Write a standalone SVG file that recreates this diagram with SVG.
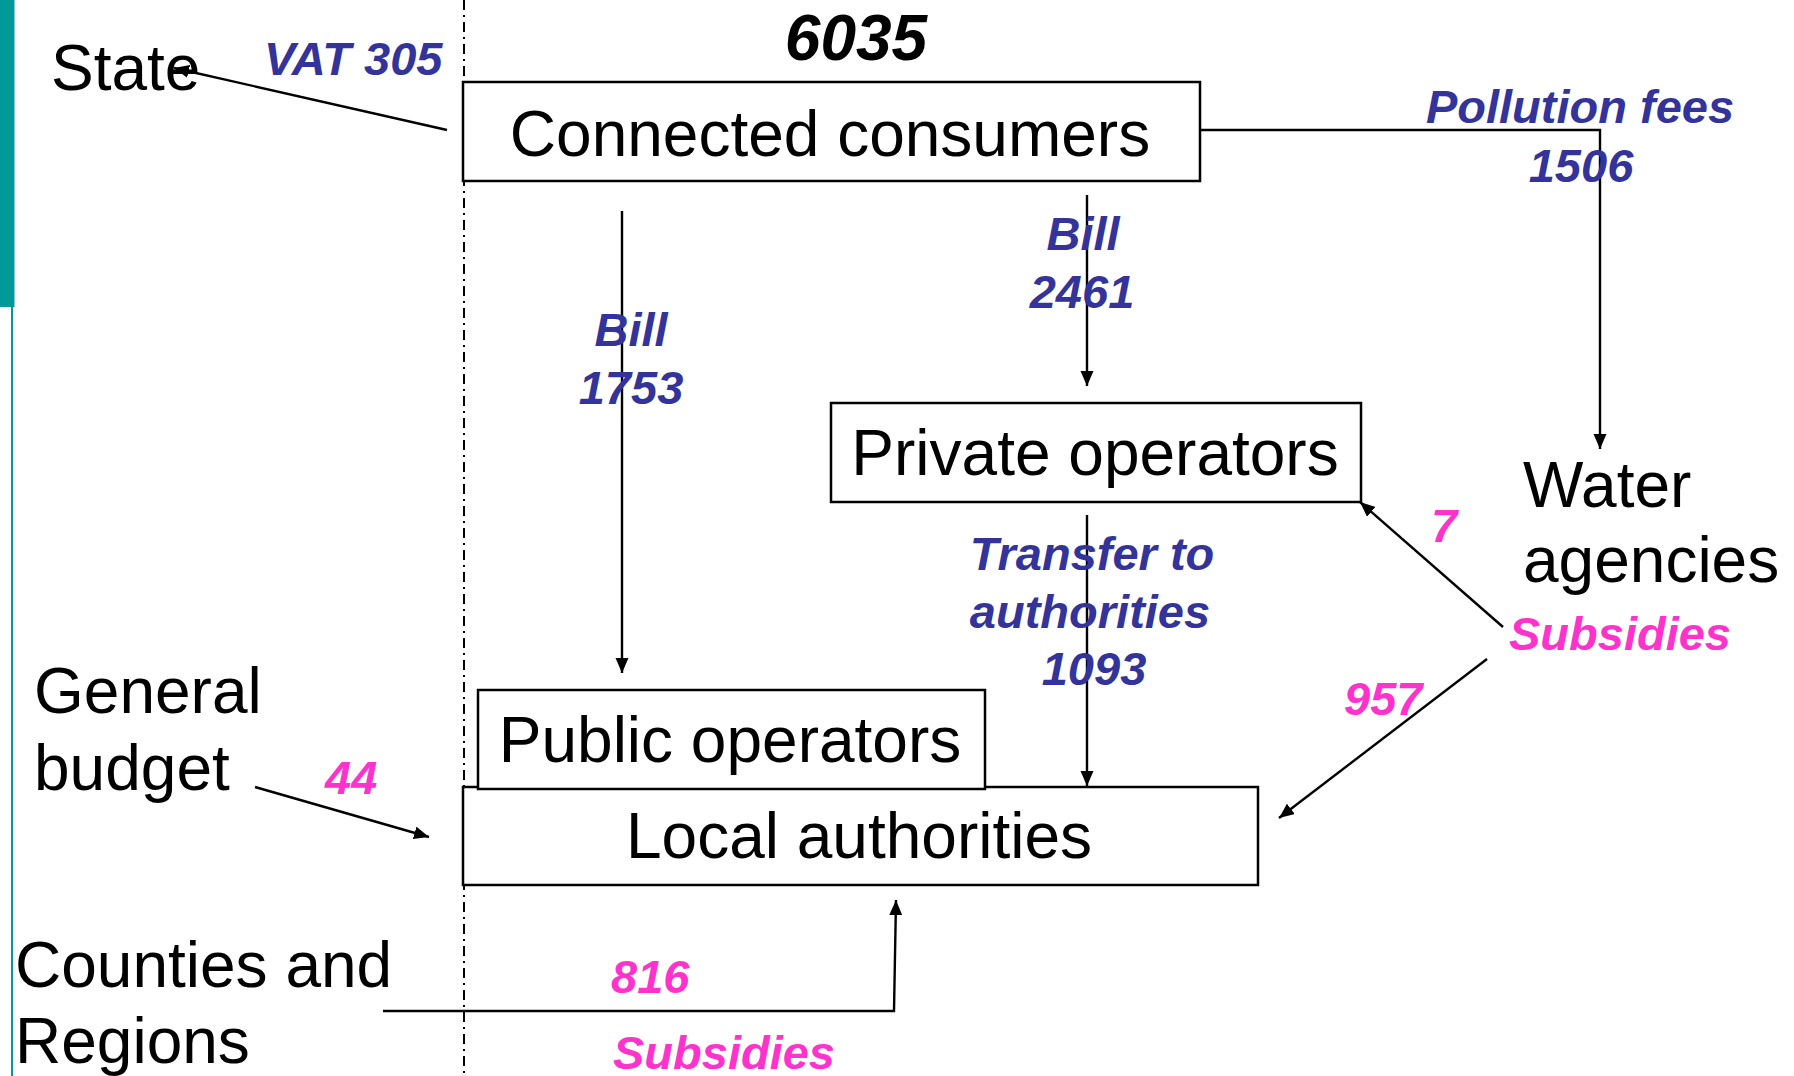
<svg xmlns="http://www.w3.org/2000/svg" width="1794" height="1076" viewBox="0 0 1794 1076">
<style>
.box{fill:#fff;stroke:#000;stroke-width:2.5}
.node{font-family:"Liberation Sans",Arial,sans-serif;font-size:64px;fill:#000}
.lbl{font-family:"Liberation Sans",Arial,sans-serif;font-size:47px;font-weight:bold;font-style:italic}
.blue{fill:#333399}
.pink{fill:#FF33CC}
.con{fill:none;stroke:#000;stroke-width:2.4}
</style>
<defs>
<marker id="ah" markerUnits="userSpaceOnUse" markerWidth="17" markerHeight="14" refX="15" refY="6.5" orient="auto">
<path d="M0,0 L15,6.5 L0,13 z" fill="#000"/>
</marker>
</defs>
<rect width="1794" height="1076" fill="#fff"/>
<g id="decor">
<rect x="0" y="0" width="14.5" height="307" fill="#009999"/>
<line x1="12" y1="307" x2="12" y2="1076" stroke="#009999" stroke-width="2"/>
<line x1="464" y1="0" x2="464" y2="1076" stroke="#000" stroke-width="2" stroke-dasharray="10,5,2,5"/>
</g>
<g id="connectors">
<line class="con" x1="447" y1="130" x2="174" y2="68" marker-end="url(#ah)"/>
<line class="con" x1="622" y1="211" x2="622" y2="673" marker-end="url(#ah)"/>
<line class="con" x1="1087" y1="195" x2="1087" y2="386" marker-end="url(#ah)"/>
<polyline class="con" points="1200,130 1600,130 1600,449" marker-end="url(#ah)"/>
<line class="con" x1="1087" y1="515" x2="1087" y2="786" marker-end="url(#ah)"/>
<line class="con" x1="1503" y1="627" x2="1360" y2="502" marker-end="url(#ah)"/>
<line class="con" x1="1487" y1="659" x2="1279" y2="818" marker-end="url(#ah)"/>
<line class="con" x1="255" y1="787" x2="429" y2="837" marker-end="url(#ah)"/>
<polyline class="con" points="383,1011 894,1011 896,900" marker-end="url(#ah)"/>
</g>
<g id="state"><text class="node" x="51" y="90">State</text></g>
<g id="connected-consumers">
<rect class="box" x="463" y="82" width="737" height="99"/>
<text class="node" x="830" y="156" text-anchor="middle">Connected consumers</text>
</g>
<g id="private-operators">
<rect class="box" x="831" y="403" width="530" height="99"/>
<text class="node" x="1095" y="475" text-anchor="middle">Private operators</text>
</g>
<g id="local-authorities">
<rect class="box" x="463" y="787" width="795" height="98"/>
<text class="node" x="859" y="858" text-anchor="middle">Local authorities</text>
</g>
<g id="public-operators">
<rect class="box" x="478" y="690" width="507" height="99"/>
<text class="node" x="730" y="762" text-anchor="middle">Public operators</text>
</g>
<g id="water-agencies">
<text class="node" x="1523" y="507">Water</text>
<text class="node" x="1523" y="582">agencies</text>
</g>
<g id="general-budget">
<text class="node" x="34" y="713">General</text>
<text class="node" x="34" y="790">budget</text>
</g>
<g id="counties-regions">
<text class="node" x="15" y="987">Counties and</text>
<text class="node" x="15" y="1063">Regions</text>
</g>
<g id="labels">
<text class="lbl" x="856" y="60" fill="#000" text-anchor="middle" style="font-size:64px">6035</text>
<text class="lbl blue" x="264" y="75">VAT 305</text>
<text class="lbl blue" x="631" y="346" text-anchor="middle">Bill</text>
<text class="lbl blue" x="631" y="404" text-anchor="middle">1753</text>
<text class="lbl blue" x="1083" y="250" text-anchor="middle">Bill</text>
<text class="lbl blue" x="1082" y="308" text-anchor="middle">2461</text>
<text class="lbl blue" x="1580" y="123" text-anchor="middle">Pollution fees</text>
<text class="lbl blue" x="1581" y="182" text-anchor="middle">1506</text>
<text class="lbl blue" x="1092" y="570" text-anchor="middle">Transfer to</text>
<text class="lbl blue" x="1090" y="628" text-anchor="middle">authorities</text>
<text class="lbl blue" x="1094" y="685" text-anchor="middle">1093</text>
<text class="lbl pink" x="1431" y="542">7</text>
<text class="lbl pink" x="1509" y="650">Subsidies</text>
<text class="lbl pink" x="1344" y="715">957</text>
<text class="lbl pink" x="325" y="794">44</text>
<text class="lbl pink" x="611" y="993">816</text>
<text class="lbl pink" x="613" y="1069">Subsidies</text>
</g>
</svg>
